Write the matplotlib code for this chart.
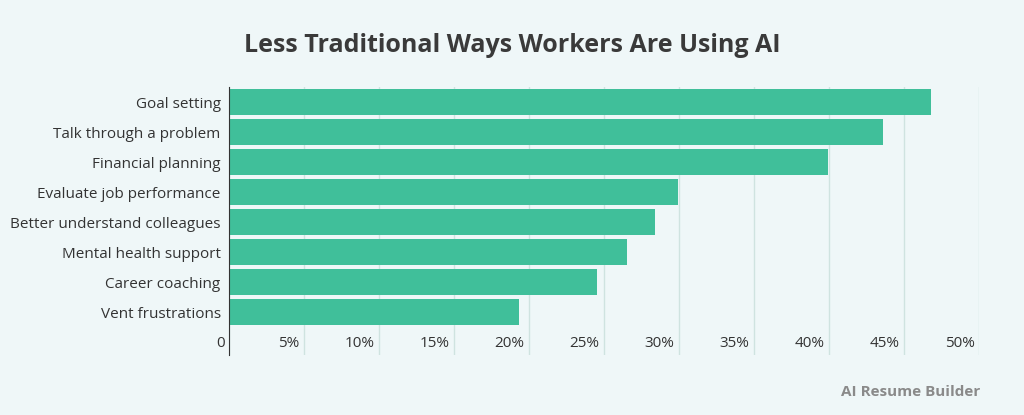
import matplotlib.pyplot as plt
import numpy as np

categories = ["Goal setting", "Talk through a problem", "Financial planning",
              "Evaluate job performance", "Better understand colleagues",
              "Mental health support", "Career coaching", "Vent frustrations"]
values = [46.8, 43.6, 39.9, 29.9, 28.4, 26.5, 24.5, 19.3]
ticks = [0, 5, 10, 15, 20, 25, 30, 35, 40, 45, 50]
tick_labels = ["0"] + [f"{t}%" for t in ticks[1:]]

bg = "#eff7f8"
fig = plt.figure(figsize=(10.24, 4.15), dpi=100, facecolor=bg)
ax = fig.add_axes([229/1024, 1 - 355/415, 750/1024, (355-87)/415], facecolor=bg)

y = np.arange(len(categories))
ax.barh(y, values, height=0.87, color="#40bf9a", zorder=2)
ax.set_ylim(8.43, -0.5)
ax.set_xlim(0, 50)
ax.set_yticks(y)
ax.set_yticklabels(categories, fontsize=11, color="#333333", family="Open Sans")
ax.set_xticks(ticks)
ax.set_xticklabels([])
for t, lab in zip(ticks, tick_labels):
    ax.text(t - 0.3, 8.05, lab, ha="right", va="center",
            fontsize=11, color="#333333", family="Open Sans")
ax.tick_params(axis="both", length=0, pad=6)
ax.grid(axis="x", color="#cfe3e0", linewidth=1, zorder=0)
for s in ["top", "right", "bottom"]:
    ax.spines[s].set_visible(False)
ax.spines["left"].set_color("#333333")
ax.spines["left"].set_zorder(3)

fig.text(0.5, 1 - 45/415, "Less Traditional Ways Workers Are Using AI", ha="center",
         va="center", fontsize=18, fontweight="bold", color="#3a3a3a", family="Open Sans")
fig.text(980/1024, 1 - 392/415, "AI Resume Builder", ha="right", va="center",
         fontsize=11, fontweight="bold", color="#8a8a8a", family="Open Sans")

fig.savefig("out.png", facecolor=bg)
